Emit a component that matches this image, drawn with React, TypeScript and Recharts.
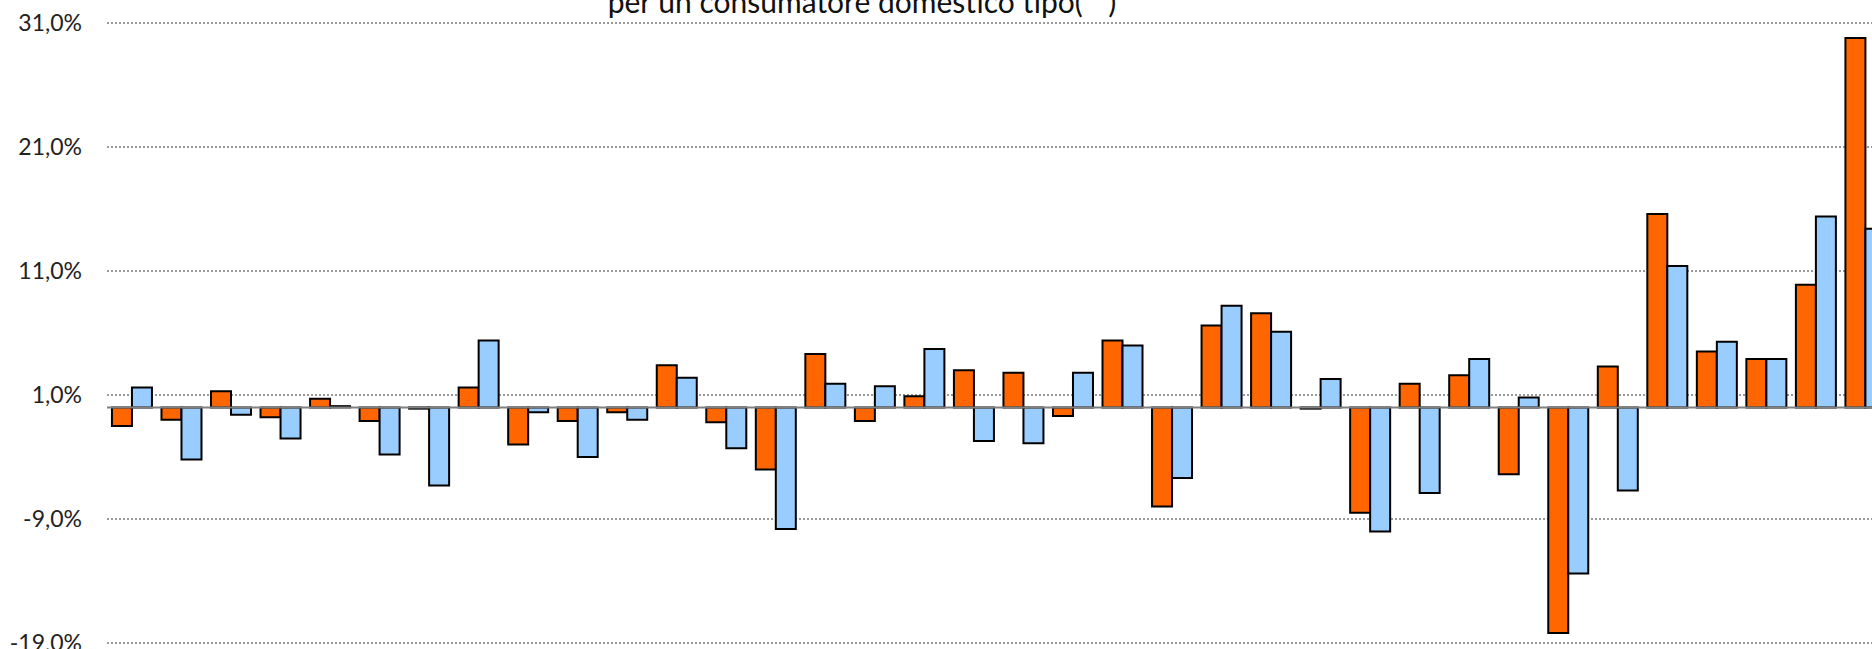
import React from 'react'
import {
  BarChart,
  Bar,
  XAxis,
  YAxis,
  CartesianGrid,
  ReferenceLine,
} from 'recharts'

// periods (labels fall below the visible crop)
const periods = Array.from({ length: 36 }, (_, i) => `P${i + 1}`)

// orange series (%)
const seriesA = [
  -1.5, -1.0, 1.3, -0.8, 0.7, -1.1, -0.1, 1.6, -3.0, -1.1, -0.4, 3.4,
  -1.2, -5.0, 4.3, -1.1, 0.9, 3.0, 2.8, -0.7, 5.4, -8.0, 6.6, 7.6,
  -0.1, -8.5, 1.9, 2.6, -5.4, -18.2, 3.3, 15.6, 4.5, 3.9, 9.9, 29.8,
]

// light blue series (%)
const seriesB = [
  1.6, -4.2, -0.6, -2.5, 0.1, -3.8, -6.3, 5.4, -0.4, -4.0, -1.0, 2.4,
  -3.3, -9.8, 1.9, 1.7, 4.7, -2.7, -2.9, 2.8, 5.0, -5.7, 8.2, 6.1,
  2.3, -10.0, -6.9, 3.9, 0.8, -13.4, -6.7, 11.4, 5.3, 3.9, 15.4, 14.4,
]

const yTicks = [-19, -9, 1, 11, 21, 31]
const boundaryTicks = Array.from({ length: periods.length + 1 }, (_, i) => i)

const title = 'per un consumatore domestico tipo(**)'

const data = periods.map((name, i) => ({ name, a: seriesA[i], b: seriesB[i] }))

const FONT = 'Lato, "Open Sans", sans-serif'

const fmt = (v: number) => `${v.toFixed(1).replace('.', ',')}%`

export default function App() {
  return (
    <div
      style={{
        position: 'fixed',
        left: 0,
        top: 0,
        width: 1872,
        height: 649,
        overflow: 'hidden',
        background: '#fff',
      }}
    >
      <BarChart
        width={1900}
        height={683}
        data={data}
        margin={{ top: 23, right: 10, bottom: 10, left: 0 }}
        barCategoryGap="10%"
        barGap={0}
      >
        <CartesianGrid
          xAxisId="cat"
          vertical={false}
          stroke="#333"
          strokeDasharray="2 2"
        />
        <XAxis xAxisId="cat" dataKey="name" hide />
        <XAxis
          xAxisId="edge"
          type="number"
          domain={[0, periods.length]}
          ticks={boundaryTicks}
          interval={0}
          tickFormatter={() => ''}
          axisLine={{ stroke: '#808080', strokeWidth: 2 }}
          tickLine={{ stroke: '#808080', strokeWidth: 2 }}
          tickSize={10}
          height={30}
        />
        <YAxis
          domain={[-19, 31]}
          ticks={yTicks}
          interval={0}
          width={107}
          axisLine={false}
          tickLine={false}
          tickSize={0}
          tickMargin={25}
          tickFormatter={fmt}
          tick={{ fill: '#222', fontSize: 23, fontFamily: FONT }}
        />
        <ReferenceLine xAxisId="cat" y={0} stroke="#808080" strokeWidth={2} />
        <Bar
          xAxisId="cat"
          dataKey="a"
          fill="#FF6600"
          stroke="#000"
          strokeWidth={2}
          isAnimationActive={false}
        />
        <Bar
          xAxisId="cat"
          dataKey="b"
          fill="#99CCFF"
          stroke="#000"
          strokeWidth={2}
          isAnimationActive={false}
        />
      </BarChart>
      <svg
        width={1872}
        height={649}
        style={{ position: 'absolute', left: 0, top: 0, pointerEvents: 'none' }}
      >
        <text
          x={862}
          y={13}
          textAnchor="middle"
          fontFamily={FONT}
          fontSize={30}
          fill="#111"
        >
          {title}
        </text>
      </svg>
    </div>
  )
}
